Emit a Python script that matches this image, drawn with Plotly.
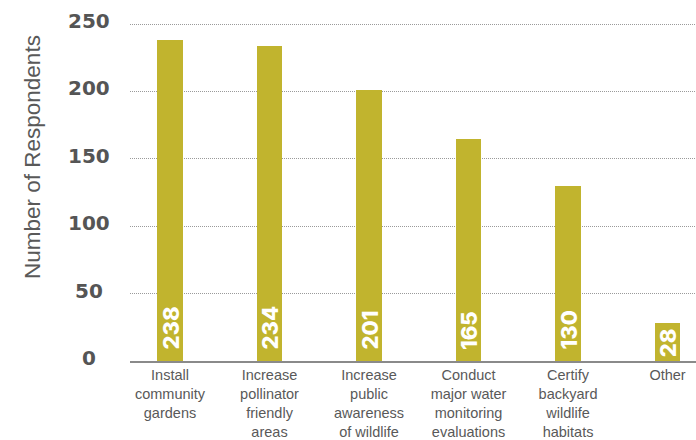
import plotly.graph_objects as go

categories = [
    "Install<br>community<br>gardens",
    "Increase<br>pollinator<br>friendly<br>areas",
    "Increase<br>public<br>awareness<br>of wildlife",
    "Conduct<br>major water<br>monitoring<br>evaluations",
    "Certify<br>backyard<br>wildlife<br>habitats",
    "Other",
]
respondents = [238, 234, 201, 165, 130, 28]
y_ticks = [0, 50, 100, 150, 200, 250]
y_title = "Number of Respondents"

BAR = "#C1B42E"
GRID = "#9a9a9a"
TXT = "#595959"

L, R, T, B = 130, 0, 22, 79
W, H = 696, 440
PW = W - L - R
PH = H - T - B
YMAX = 250 * PH / (361 - 24)
PX_PER_UNIT = PH / YMAX

fig = go.Figure()
fig.add_trace(go.Bar(
    x=categories,
    y=respondents,
    width=0.26,
    marker=dict(color=BAR, line=dict(width=0)),
    hoverinfo="skip",
))

annotations = []
# value labels inside bars (rotated)
LABEL_PX = 44  # approximate rotated label length in px
for c, v in zip(categories, respondents):
    bar_px = v * PX_PER_UNIT
    shift = 9 if bar_px > LABEL_PX + 20 else max(0, (bar_px - 34) / 2)
    annotations.append(dict(
        x=c, xref="x", y=0, yref="y",
        text=str(v), showarrow=False, textangle=-90,
        xanchor="center", yanchor="bottom", yshift=shift,
        font=dict(family="Inter", size=22, color="white", weight=800),
    ))
for t in y_ticks:
    annotations.append(dict(
        x=(88.5 - L) / PW, xref="paper", y=t, yref="y",
        text=str(t), showarrow=False, xanchor="center", yanchor="middle",
        yshift=3,
        font=dict(family="DejaVu Sans", size=20, color="#555555", weight="bold"),
    ))
annotations.append(dict(
    x=(33 - L) / PW, xref="paper", y=1 - (157 - T) / PH, yref="paper",
    text=y_title, showarrow=False, textangle=-90,
    xanchor="center", yanchor="middle",
    font=dict(family="Liberation Sans", size=22.5, color=TXT),
))

fig.update_layout(
    width=W, height=H,
    margin=dict(l=L, r=R, t=T, b=B, autoexpand=False),
    plot_bgcolor="white", paper_bgcolor="white",
    showlegend=False,
    bargap=0,
    annotations=annotations,
    xaxis=dict(
        range=[-0.402, 5.286],
        showgrid=False, zeroline=False,
        showline=True, linecolor="#8a8a8a", linewidth=2,
        ticks="", tickfont=dict(family="Liberation Sans", size=14.5, color=TXT),
        fixedrange=True,
    ),
    yaxis=dict(
        range=[0, YMAX],
        tickvals=y_ticks, showticklabels=False,
        showgrid=True, gridcolor=GRID, griddash="1px,1px", gridwidth=1,
        zeroline=False, showline=False, ticks="",
        fixedrange=True,
    ),
)

fig.write_html(
    "out.html",
    config={"displayModeBar": False},
    post_script="document.body.style.margin='0';document.body.style.padding='0';",
)
